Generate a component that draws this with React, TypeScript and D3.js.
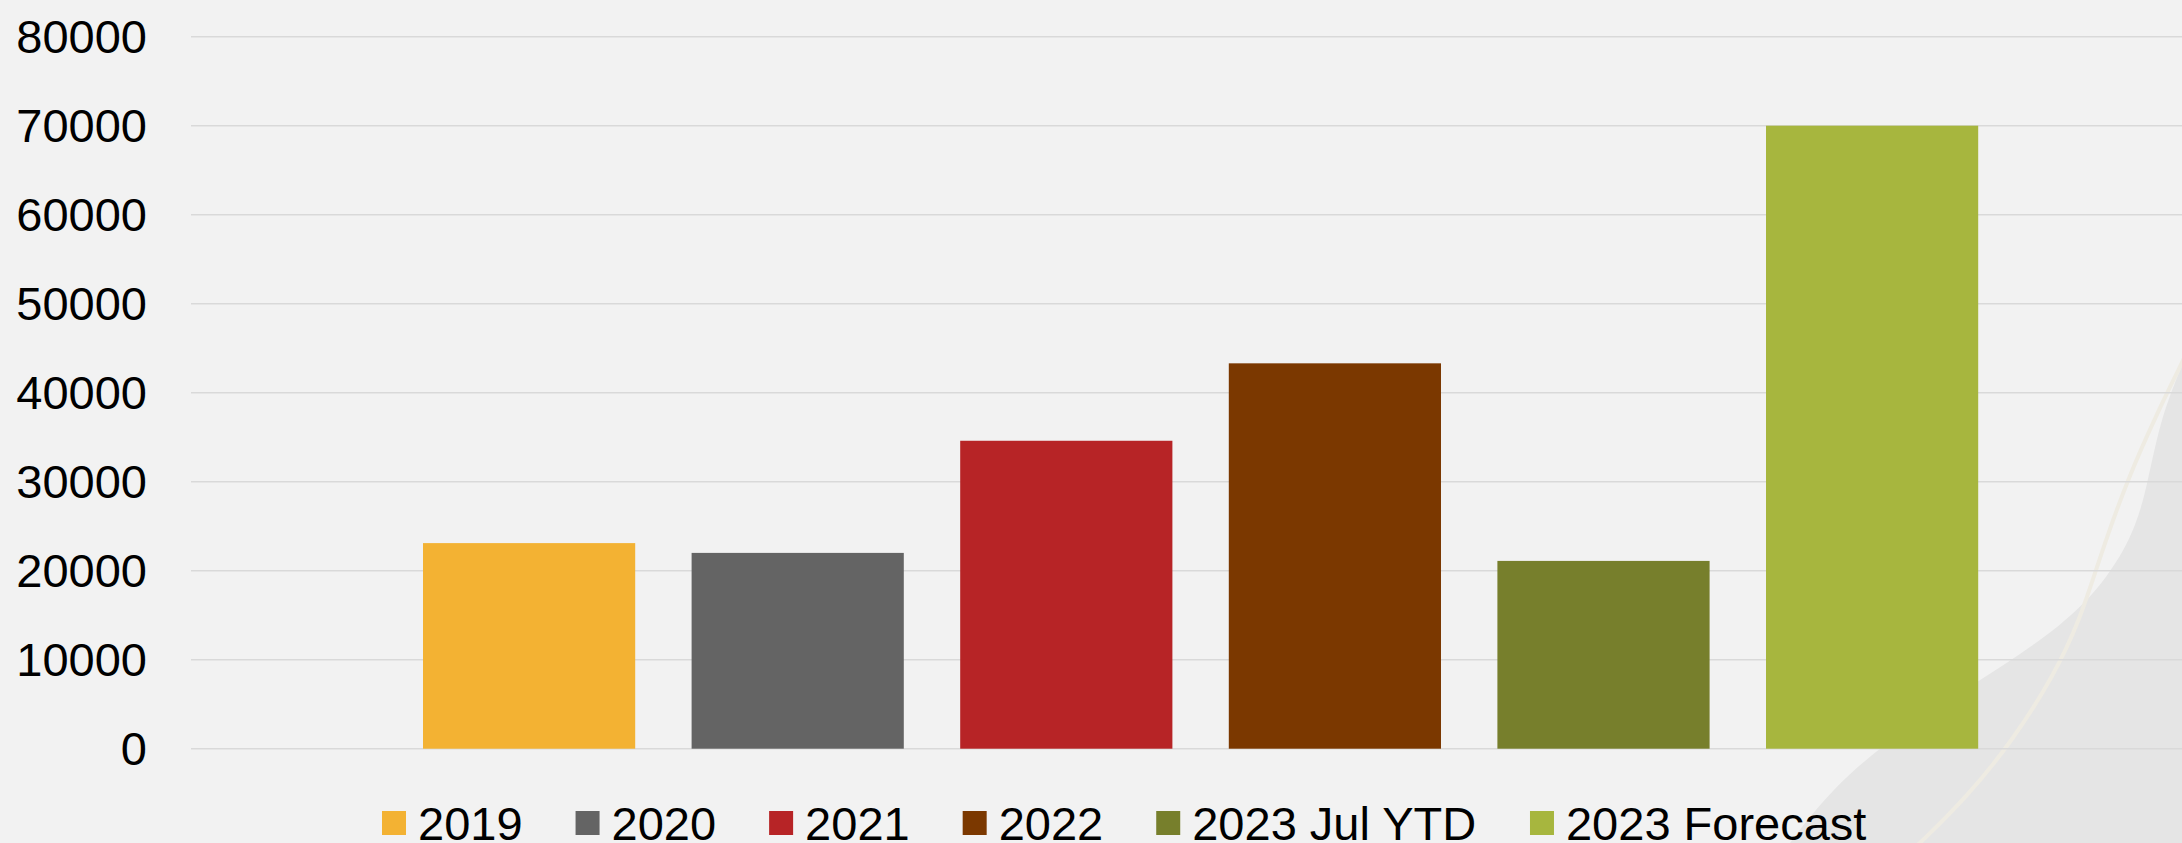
import React, { useMemo } from "react";
import * as d3 from "d3";

const categories = ["2019", "2020", "2021", "2022", "2023 Jul YTD", "2023 Forecast"];
const values = [23100, 22000, 34600, 43300, 21100, 70000];
const colors = ["#f3b233", "#646464", "#b72426", "#7b3800", "#777f2c", "#a7b63e"];
const yTicks = [0, 10000, 20000, 30000, 40000, 50000, 60000, 70000, 80000];

const W = 2182;
const H = 843;
const FONT = "'Liberation Sans', Arial, sans-serif";
const FS = 47;

export default function App() {
  const y = d3.scaleLinear().domain([0, 80000]).range([748.7, 36.7]);
  const step = 268.6;
  const pad = 0.21;
  const x0 = 423 - step * pad / 2;
  const x = d3
    .scaleBand<string>()
    .domain(categories)
    .range([x0, x0 + step * categories.length])
    .paddingInner(pad)
    .paddingOuter(pad / 2);

  const widths = useMemo(() => {
    const c = document.createElement("canvas").getContext("2d");
    if (!c) return categories.map((s) => s.length * FS * 0.52);
    c.font = `${FS}px ${FONT}`;
    return categories.map((s) => c.measureText(s).width);
  }, []);

  const sw = 24;
  const gapText = 12;
  const gapItem = 53;
  const itemW = widths.map((w) => sw + gapText + w);
  let cx = 382;
  const legendPos = itemW.map((w) => {
    const p = cx;
    cx += w + gapItem;
    return p;
  });

  const area = d3.line().curve(d3.curveBasis)([
    [2182, 365],
    [2160, 420],
    [2147, 487],
    [2133, 537],
    [2097, 593],
    [2047, 637],
    [1980, 680],
    [1870, 752],
    [1817, 807],
    [1790, 843],
  ]);
  const strand = d3.line().curve(d3.curveBasis)([
    [2190, 345],
    [2182, 363],
    [2160, 407],
    [2127, 480],
    [2100, 557],
    [2080, 620],
    [2053, 677],
    [2013, 740],
    [1967, 797],
    [1920, 843],
    [1910, 852],
  ]);

  return (
    <svg
      width={W}
      height={H}
      style={{ position: "absolute", left: 0, top: 0, display: "block" }}
      fontFamily={FONT}
    >
      <rect x={0} y={0} width={W} height={H} fill="#f2f2f2" />
      <path d={`${area}L${W},${H}L${W},365Z`} fill="#e5e5e5" />
      <path d={strand || ""} fill="none" stroke="#eeebe2" strokeWidth={4} />
      {yTicks.map((t) => (
        <g key={t}>
          <line x1={191} x2={W} y1={y(t)} y2={y(t)} stroke="#d9d9d9" strokeWidth={1.6} />
          <text x={147} y={y(t) + 16.5} textAnchor="end" fontSize={FS} fill="#000">
            {t}
          </text>
        </g>
      ))}
      {categories.map((c, i) => (
        <rect
          key={c}
          x={x(c)}
          y={y(values[i])}
          width={x.bandwidth()}
          height={y(0) - y(values[i])}
          fill={colors[i]}
        />
      ))}
      {categories.map((c, i) => (
        <g key={"l" + c} transform={`translate(${legendPos[i]},0)`}>
          <rect x={0} y={811} width={sw} height={sw} fill={colors[i]} />
          <text x={sw + gapText} y={840} fontSize={FS} fill="#000">
            {c}
          </text>
        </g>
      ))}
    </svg>
  );
}
